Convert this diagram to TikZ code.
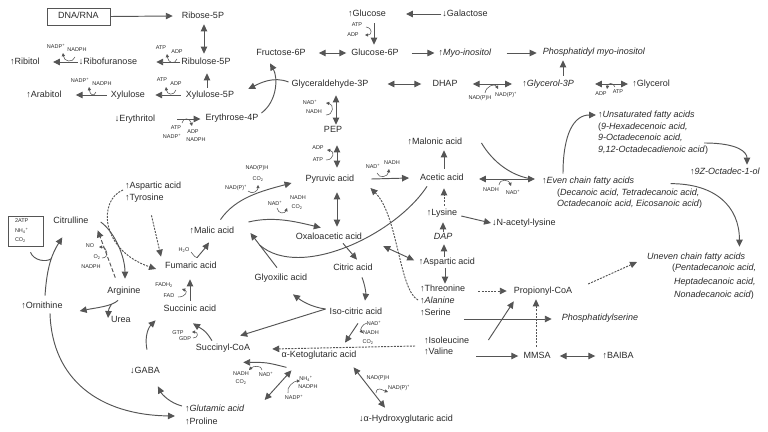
\documentclass[tikz,border=0pt]{standalone}
\usepackage{fontspec}
\setmainfont{Liberation Sans}
\usetikzlibrary{arrows.meta,calc}
\definecolor{lc}{HTML}{555555}
\definecolor{txt}{HTML}{2A2A2A}
\newcommand{\pl}{\textsuperscript{+}}

\begin{document}
\begin{tikzpicture}[x=1pt,y=-1pt,
  met/.style={font=\fontsize{9}{10}\selectfont,text=txt,inner sep=1pt,text height=6.5pt,text depth=1.8pt},
  cof/.style={font=\fontsize{5.5}{6}\selectfont,text=txt,inner sep=0.3pt},
  conn/.style={draw=lc,line width=0.95pt},
  arr/.style={conn,-{Triangle[length=7pt,width=6.5pt]}},
  dbl/.style={conn,{Triangle[length=7pt,width=6.5pt]}-{Triangle[length=7pt,width=6.5pt]}},
  dotarr/.style={arr,dash pattern=on 2pt off 1.2pt},
  dasharr/.style={arr,dash pattern=on 4pt off 2pt},
  cofa/.style={draw=lc,line width=0.55pt,-{Triangle[length=3.2pt,width=3.2pt]}},
  cofn/.style={draw=lc,line width=0.55pt}]

  \useasboundingbox (0,0) rectangle (768,431);

  % pentose phosphate side
  \node [met,draw=lc,line width=0.6pt,minimum width=63pt,minimum height=17pt] (dna) at (78.5,16.5) {DNA/RNA};
  \node [met] (rib) at (203,16) {Ribose-5P};
  \node [met] (ribu) at (206,62) {Ribulose-5P};
  \node [met] (ribf) at (108,62) {↓Ribofuranose};
  \node [met] (ribt) at (25,62) {↑Ribitol};
  \node [met] (xylp) at (210,95) {Xylulose-5P};
  \node [met] (xyl) at (128,95) {Xylulose};
  \node [met] (arab) at (44,95) {↑Arabitol};
  \node [met] (eryl) at (135,119) {↓Erythritol};
  \node [met] (eryp) at (232,118) {Erythrose-4P};

  % glycolysis
  \node [met] (fru) at (281,53) {Fructose-6P};
  \node [met] (g6p) at (375,53) {Glucose-6P};
  \node [met] (glc) at (367,14) {↑Glucose};
  \node [met] (gal) at (465,14) {↓Galactose};
  \node [met] (myo) at (465,53) {↑\textit{Myo-inositol}};
  \node [met] (pmi) at (594,52) {\textit{Phosphatidyl myo-inositol}};
  \node [met] (gap) at (330,84) {Glyceraldehyde-3P};
  \node [met] (dhap) at (445,84) {DHAP};
  \node [met] (g3p) at (548,84) {↑\textit{Glycerol-3P}};
  \node [met] (gly) at (651,84) {↑Glycerol};
  \node [met] (pep) at (333,130) {PEP};
  \node [met] (pyr) at (330,179) {Pyruvic acid};
  \node [met] (ace) at (442,178) {Acetic acid};
  \node [met] (mln) at (435,142) {↑Malonic acid};

  % fatty acids
  \node [met,anchor=west] (ev1) at (541,181) {↑\textit{Even chain fatty acids}};
  \node [met,anchor=west] (ev2) at (556,193) {(\textit{Decanoic acid, Tetradecanoic acid,}};
  \node [met,anchor=west] (ev3) at (556,204) {\textit{Octadecanoic acid, Eicosanoic acid})};
  \node [met,anchor=west] (un1) at (597,115) {↑\textit{Unsaturated fatty acids}};
  \node [met,anchor=west] (un2) at (597,127) {(\textit{9-Hexadecenoic acid,}};
  \node [met,anchor=west] (un3) at (597,138) {\textit{9-Octadecenoic acid,}};
  \node [met,anchor=west] (un4) at (597,150) {\textit{9,12-Octadecadienoic acid})};
  \node [met] (ol) at (725,172) {↑\textit{9Z-Octadec-1-ol}};
  \node [met,anchor=west] (od1) at (646,257) {\textit{Uneven chain fatty acids}};
  \node [met,anchor=west] (od2) at (671,268) {(\textit{Pentadecanoic acid,}};
  \node [met,anchor=west] (od3) at (673,282) {\textit{Heptadecanoic acid,}};
  \node [met,anchor=west] (od4) at (673,295) {\textit{Nonadecanoic acid})};

  % amino acids
  \node [met] (lys) at (442,213) {↑Lysine};
  \node [met] (nal) at (524,223) {↓N-acetyl-lysine};
  \node [met] (dap) at (443,237) {\textit{DAP}};
  \node [met] (asp) at (447,262) {↑Aspartic acid};
  \node [met,anchor=west] (thr) at (419,289) {↑Threonine};
  \node [met,anchor=west] (ala) at (419,301) {↑\textit{Alanine}};
  \node [met,anchor=west] (ser) at (419,313) {↑Serine};
  \node [met,anchor=west] (ile) at (423,341) {↑Isoleucine};
  \node [met,anchor=west] (val) at (423,352) {↑Valine};
  \node [met] (prp) at (543,291) {Propionyl-CoA};
  \node [met] (pse) at (600,318) {\textit{Phosphatidylserine}};
  \node [met] (mmsa) at (537,356) {MMSA};
  \node [met] (bai) at (618,356) {↑BAIBA};

  % TCA cycle
  \node [met] (oaa) at (329,237) {Oxaloacetic acid};
  \node [met] (cit) at (353,268) {Citric acid};
  \node [met] (icit) at (356,312) {Iso-citric acid};
  \node [met] (akg) at (319,355) {α-Ketoglutaric acid};
  \node [met] (hga) at (406,419) {↓α-Hydroxyglutaric acid};
  \node [met] (sca) at (223,348) {Succinyl-CoA};
  \node [met] (suc) at (190,309) {Succinic acid};
  \node [met] (fum) at (191,266) {Fumaric acid};
  \node [met] (mal) at (212,231) {↑Malic acid};
  \node [met] (glx) at (281,278) {Glyoxilic acid};

  % urea cycle
  \node [met,anchor=west] (aspl) at (124,186) {↑Aspartic acid};
  \node [met,anchor=west] (tyr) at (124,198) {↑Tyrosine};
  \node [met] (citl) at (71,221) {Citrulline};
  \node [met] (arg) at (124,291) {Arginine};
  \node [met] (urea) at (121,320) {Urea};
  \node [met] (orn) at (42,306) {↑Ornithine};
  \node [met] (gaba) at (145,371) {↓GABA};
  \node [met,anchor=west] (glu) at (184,409) {↑\textit{Glutamic acid}};
  \node [met,anchor=west] (pro) at (184,422) {↑Proline};
  \node [draw=lc,line width=0.6pt,minimum width=35pt,minimum height=30pt,inner sep=0pt,
        text width=21pt,align=left,font=\fontsize{5.5}{9.5}\selectfont,text=txt] (inp) at (25.5,231)
        {2ATP\\NH\textsubscript{4}\pl\\CO\textsubscript{2}};

  % cofactors
  \node [cof] (nr1) at (56,46) {NADP\pl};
  \node [cof] (nr2) at (77,50) {NADPH};
  \node [cof] (ar1) at (161,48) {ATP};
  \node [cof] (ar2) at (177,52) {ADP};
  \node [cof] (ax1) at (162,80) {ATP};
  \node [cof] (ax2) at (176,84) {ADP};
  \node [cof] (na1) at (80,80) {NADP\pl};
  \node [cof] (na2) at (102,84) {NADPH};
  \node [cof] (ae1) at (176,128) {ATP};
  \node [cof] (ae2) at (172,136) {NADP\pl};
  \node [cof] (ae3) at (193,132) {ADP};
  \node [cof] (ae4) at (196,140) {NADPH};
  \node [cof] (ag1) at (357,25) {ATP};
  \node [cof] (ag2) at (353,35) {ADP};
  \node [cof] (ng1) at (310,102) {NAD\pl};
  \node [cof] (ng2) at (314,112) {NADH};
  \node [cof] (nd1) at (480,98) {NAD(P)H};
  \node [cof] (nd2) at (506,95) {NAD(P)\pl};
  \node [cof] (ay1) at (601,94) {ADP};
  \node [cof] (ay2) at (618,92) {ATP};
  \node [cof] (ap1) at (318,148) {ADP};
  \node [cof] (ap2) at (318,160) {ATP};
  \node [cof] (np1) at (373,166) {NAD\pl};
  \node [cof] (np2) at (392,163) {NADH};
  \node [cof] (ne1) at (491,190) {NADH};
  \node [cof] (ne2) at (513,192) {NAD\pl};
  \node [cof] (nm1) at (236,188) {NAD(P)\pl};
  \node [cof] (nm2) at (257,168) {NAD(P)H};
  \node [cof] (nm3) at (258,179) {CO\textsubscript{2}};
  \node [cof] (no1) at (275,203) {NAD\pl};
  \node [cof] (no2) at (298,198) {NADH};
  \node [cof] (no3) at (297,207) {CO\textsubscript{2}};
  \node [cof] (wf) at (184,250) {H\textsubscript{2}O};
  \node [cof] (fs1) at (164,285) {FADH\textsubscript{2}};
  \node [cof] (fs2) at (169,296) {FAD};
  \node [cof] (gs1) at (178,333) {GTP};
  \node [cof] (gs2) at (185,339) {GDP};
  \node [cof] (oa1) at (90,246) {NO};
  \node [cof] (oa2) at (97,257) {O\textsubscript{2}};
  \node [cof] (oa3) at (91,267) {NADPH};
  \node [cof] (ni1) at (374,323) {NAD\pl};
  \node [cof] (ni2) at (371,333) {NADH};
  \node [cof] (ni3) at (368,342) {CO\textsubscript{2}};
  \node [cof] (nk1) at (241,374) {NADH};
  \node [cof] (nk2) at (241,382) {CO\textsubscript{2}};
  \node [cof] (nk3) at (266,374) {NAD\pl};
  \node [cof] (nu1) at (306,379) {NH\textsubscript{4}\pl};
  \node [cof] (nu2) at (308,387) {NADPH};
  \node [cof] (nu3) at (294,397) {NADP\pl};
  \node [cof] (nh1) at (378,378) {NAD(P)H};
  \node [cof] (nh2) at (399,388) {NAD(P)\pl};

  % pentose phosphate connectors
  \draw [arr] (dna.east) -- ($(rib.west)+(-8,0)$);
  \draw [dbl] ($(rib.south)+(1,3)$) -- ($(rib.south |- ribu.north)+(1,-3)$);
  \draw [arr] ($(xylp.north)+(-3,-2)$) -- ($(xylp.north |- ribu.south)+(-3,6)$);
  \draw [arr] (ribu.west) -- ($(ribf.east)+(18,0)$);
  \draw [arr] (ribf.west) -- ($(ribt.east)+(12,0)$);
  \draw [arr] ($(xylp.west)+(-4,0)$) -- ($(xyl.east)+(9,0)$);
  \draw [arr] ($(xyl.west)+(-3,0)$) -- ($(arab.east)+(13,0)$);
  \draw [arr] ($(eryl.east)+(21,0)$) -- ($(eryp.west)+(-4,1)$);
  \draw [arr] ($(eryp.east)+(2,-5)$) .. controls +(16,-12) and +(8,14) .. ($(fru.south)+(-11,5)$);
  \draw [arr] ($(gap.west)+(-2,-2)$) .. controls +(-15,-6) and +(12,-6) .. ($(xylp.east)+(13,-6)$);
  \draw [cofa] ($(nr2)+(-2,7)$) .. controls +(-2,6) and +(1,9) .. ($(nr1)+(7,7)$);
  \draw [cofa] ($(ar2)+(0,7)$) .. controls +(-2,6) and +(1,9) .. ($(ar1)+(6,6)$);
  \draw [cofa] ($(ax2)+(0,6)$) .. controls +(-2,6) and +(1,8) .. ($(ax1)+(4,7)$);
  \draw [cofa] ($(na2)+(-6,8)$) .. controls +(-2,5) and +(1,8) .. ($(na1)+(9,7)$);
  \draw [cofa] ($(ae1)+(6,-5)$) .. controls +(1,-6) and +(-2,-8) .. ($(ae3)+(-1,-6)$);

  % glycolysis connectors
  \draw [dbl] ($(fru.east)+(12,0)$) -- ($(g6p.west)+(-4,0)$);
  \draw [arr] (gal.west) -- ($(glc.east)+(19,0)$);
  \draw [arr] ($(glc.south)+(7,4)$) -- ($(glc.south |- g6p.north)+(7,-3)$);
  \draw [arr] ($(g6p.east)+(12,0)$) -- ($(myo.west)+(-3,0)$);
  \draw [arr] ($(myo.east)+(14,0)$) -- ($(pmi.west)+(-5,1)$);
  \draw [dbl] ($(gap.east)+(18,0)$) -- ($(dhap.west)+(-10,0)$);
  \draw [dbl] ($(dhap.east)+(14,0)$) -- ($(g3p.west)+(-9,0)$);
  \draw [arr] ($(g3p.north)+(15,-3)$) -- ($(g3p.north |- pmi.south)+(15,3)$);
  \draw [dbl] ($(g3p.east)+(20,0)$) -- ($(gly.west)+(-3,0)$);
  \draw [dbl] ($(gap.south)+(6,6)$) -- ($(gap.south |- pep.north)+(6,0)$);
  \draw [dbl] ($(pep.south)+(4,10)$) -- ($(pep.south |- pyr.north)+(4,-6)$);
  \draw [arr] ($(pyr.east)+(16,0)$) -- ($(ace.west)+(-10,0)$);
  \draw [arr] ($(ace.north)+(2,-4)$) -- ($(ace.north |- mln.south)+(2,3)$);
  \draw [dbl] ($(ace.east)+(14,1)$) -- ($(ace.east -| ev1.west)+(-6,1)$);
  \draw [cofa] ($(ag1)+(9,2)$) .. controls +(7,1) and +(7,0) .. ($(ag2)+(12,0)$);
  \draw [cofa] ($(ng2)+(12,3)$) .. controls +(8,0) and +(8,1) .. ($(ng1)+(16,1)$);
  \draw [cofa] ($(nd1)+(5,-5)$) .. controls +(1,-7) and +(-3,-6) .. ($(nd2)+(-8,-6)$);
  \draw [cofa] ($(ay2)+(-3,-5)$) .. controls +(-2,-5) and +(1,-6) .. ($(ay1)+(6,-5)$);
  \draw [cofa] ($(ap2)+(8,0)$) .. controls +(8,0) and +(8,1) .. ($(ap1)+(9,2)$);
  \draw [cofa] ($(np1)+(4,7)$) .. controls +(2,6) and +(-1,8) .. ($(np2)+(-3,6)$);
  \draw [cofa] ($(ne1)+(8,-5)$) .. controls +(1,-7) and +(-2,-6) .. ($(ne2)+(-2,-6)$);

  % fatty acid connectors
  \draw [conn] ($(mln.east)+(18,1)$) .. controls +(12,20) and +(-20,-3) .. ($(ev1.west)+(-9,-2)$);
  \draw [arr] ($(ev1.north west)+(22,-2)$) .. controls +(0,-40) and +(-22,0) .. ($(un1.west)+(-1,0)$);
  \draw [arr] ($(un4.east)+(-5,-7)$) .. controls +(35,0) and +(0,-12) .. ($(ol.north)+(22,-2)$);
  \draw [arr] ($(ev2.north east)+(-30,-4)$) .. controls +(45,0) and +(0,-40) .. ($(od1.north east)+(-7,-5)$);
  \draw [dotarr] ($(prp.east)+(15,-7)$) -- ($(od1.west)+(-9,5)$);

  % amino acid connectors
  \draw [dotarr] ($(lys.north)+(2,-2)$) -- ($(lys.north |- ace.south)+(2,5)$);
  \draw [arr] (dap.north) -- ($(dap.north |- lys.south)+(0,4)$);
  \draw [arr] ($(asp.north)+(-3,0)$) -- ($(asp.north |- dap.south)+(-3,2)$);
  \draw [arr] ($(asp.south)+(-2,1)$) -- ($(asp.south |- thr.north)+(-2,0)$);
  \draw [arr] ($(lys.east)+(3,3)$) -- (nal.west);
  \draw [dbl,shorten <=22pt,shorten >=4pt] (oaa.east) -- (asp.west);
  \draw [dotarr] ($(ala.west)+(-1,-1)$) .. controls (399,290) and (398,215) .. ($(pyr.east)+(15,9)$);
  \draw [dotarr] ($(thr.east)+(12,2)$) -- ($(thr.east -| prp.west)+(-6,2)$);
  \draw [arr] ($(ser.east)+(12,6)$) -- ($(ser.east -| pse.west)+(-9,6)$);
  \draw [arr] ($(ile.east)+(18,-1)$) -- ($(prp.south west)+(1,5)$);
  \draw [arr] ($(val.east)+(22,4)$) -- ($(mmsa.west)+(-4,0)$);
  \draw [dotarr] ($(mmsa.north)+(-1,-4)$) -- ($(mmsa.north |- prp.south)+(-1,3)$);
  \draw [dbl,shorten <=8pt,shorten >=6pt] (mmsa) -- (bai);
  \draw [dotarr] ($(ile.west)+(-8,5)$) -- ($(sca.east)+(21,1)$);

  % TCA connectors
  \draw [dbl] ($(pyr.south)+(7,8)$) -- ($(pyr.south |- oaa.north)+(7,-5)$);
  \draw [arr] ($(oaa.south)+(14,1)$) -- ($(cit.north)+(4,-3)$);
  \draw [arr] ($(cit.south)+(9,4)$) .. controls +(3,8) and +(1,-8) .. ($(icit.north)+(9,-6)$);
  \draw [arr] ($(icit.south)+(2,6)$) -- ($(akg.north)+(26,-7)$);
  \draw [arr] ($(icit.west)+(-3,-3)$) .. controls +(-15,-2) and +(8,6) .. ($(glx.south)+(12,11)$);
  \draw [arr] ($(icit.west)+(-3,-3)$) -- ($(sca.north east)+(-11,-7)$);
  \draw [arr] ($(glx.north)+(-4,-5)$) -- coordinate[pos=0.65] (gj) ($(mal.east)+(15,2)$);
  \draw [conn] ($(ace.south west)+(8,3)$) .. controls (395,235) and (300,280) .. (gj);
  \draw [arr] ($(mal.north east)+(-15,-6)$) .. controls +(15,-22) and +(-30,8) .. ($(pyr.west)+(-13,4)$);
  \draw [arr] ($(mal.east)+(13,-9)$) .. controls +(25,-6) and +(-25,-6) .. ($(oaa.north west)+(26,-4)$);
  \draw [arr] ($(fum.north)+(6,-3)$) .. controls +(5,-5) .. ($(mal.south)+(-3,6)$);
  \draw [arr] ($(suc.north)+(0,-3)$) -- ($(suc.north |- fum.south)+(0,8)$);
  \draw [arr] ($(sca.north)+(-11,-2)$) .. controls +(-6,-9) .. ($(suc.south)+(3,9)$);
  \draw [arr] ($(akg.south west)+(6,7)$) .. controls +(-20,-5) .. ($(sca.south east)+(-8,9)$);
  \draw [dbl] ($(akg.south west)+(11,10)$) -- ($(glu.east)+(19,-9)$);
  \draw [dbl] ($(akg.south east)+(-4,7)$) -- ($(hga.north)+(-21,-6)$);
  \draw [cofa] ($(nm1)+(12,3)$) .. controls +(4,4) and +(0,6) .. ($(nm3)+(0,6)$);
  \draw [cofa] ($(no1)+(2,5)$) .. controls +(1,6) and +(-2,6) .. ($(no3)+(-10,1)$);
  \draw [cofn] ($(wf)+(7,2)$) .. controls +(4,5) .. ($(fum.north)+(6,-3)$);
  \draw [cofa] ($(fs2)+(9,1)$) .. controls +(8,0) and +(6,2) .. ($(fs1)+(18,4)$);
  \draw [cofa] ($(gs2)+(8,-1)$) .. controls +(6,0) and +(6,0) .. ($(gs1)+(14,-1)$);
  \draw [cofa] ($(ni1)+(-7,0)$) .. controls +(-5,1) and +(-3,-3) .. ($(ni2)+(-8,0)$);
  \draw [cofa] ($(nk3)+(-4,-4)$) .. controls +(0,-5) and +(4,-4) .. ($(nk1)+(8,-4)$);
  \draw [cofa] ($(nu3)+(-6,-4)$) .. controls +(-2,-6) and +(-6,0) .. ($(nu1)+(-6,2)$);
  \draw [cofa] ($(nh1)+(-2,15)$) .. controls +(1,-7) and +(-6,-2) .. ($(nh2)+(-11,4)$);

  % urea cycle and glutamate connectors
  \draw [dotarr] ($(aspl.west)+(-1,4)$) .. controls (98,200) and (100,250) .. ($(fum.west)+(-8,3)$);
  \draw [dotarr] ($(tyr.south)+(7,12)$) -- ($(fum.north west)+(-3,-4)$);
  \draw [arr] ($(citl.east)+(11,1)$) .. controls +(14,10) and +(0,-22) .. ($(arg.north)+(1,-7)$);
  \draw [dasharr] ($(arg.north west)+(9,-8)$) -- ($(citl.south east)+(8,4)$);
  \draw [cofa] ($(oa2)+(5,1)$) .. controls +(8,0) and +(8,0) .. ($(oa1)+(9,1)$);
  \draw [arr] ($(arg.south)+(-6,4)$) .. controls +(-6,6) and +(15,-3) .. coordinate[pos=0.25] (ub) ($(orn.east)+(16,5)$);
  \draw [arr] (ub) .. controls +(-3,5) .. ($(urea.west)+(-2,-2)$);
  \draw [arr] ($(orn.north)+(3,-5)$) .. controls +(2,-30) and +(-10,16) .. coordinate[pos=0.55] (oj) ($(citl.south west)+(10,11)$);
  \draw [conn] ($(inp.south)+(5,6)$) .. controls +(3,8) and +(-6,4) .. (oj);
  \draw [arr] ($(orn.south)+(8,2)$) .. controls (52,380) and (100,415) .. ($(glu.west)+(-9,7)$);
  \draw [arr] ($(glu.west)+(-2,-3)$) .. controls +(-12,-3) and +(4,8) .. ($(gaba.south east)+(-3,10)$);
  \draw [arr] ($(gaba.north)+(2,-16)$) .. controls +(-3,-15) and +(-6,6) .. ($(suc.south west)+(-7,6)$);
\end{tikzpicture}
\end{document}
